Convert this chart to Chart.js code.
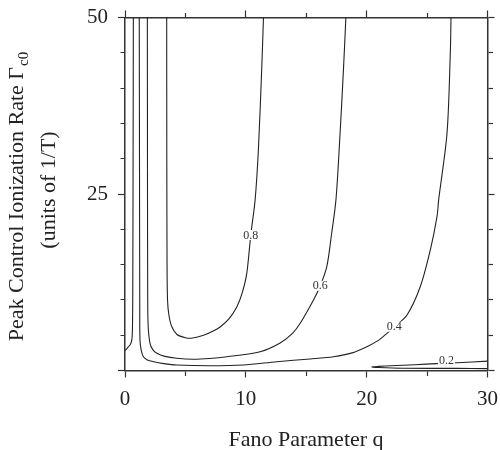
<!DOCTYPE html>
<html>
<head>
<meta charset="utf-8">
<script src="https://cdn.jsdelivr.net/npm/chart.js@4.4.0/dist/chart.umd.min.js"></script>
<style>
  html, body { margin: 0; padding: 0; background: #fff; }
</style>
</head>
<body>
<canvas id="chart" width="500" height="450"></canvas>
<script>
// contour lines: q (Fano parameter) and Gamma_c0 values
const q08 = [3.45, 3.46, 3.48, 3.52, 3.62, 3.85, 4.3, 5.0, 5.6, 6.5, 7.3, 7.9, 8.6, 9.25, 9.7, 10.08, 10.41, 10.77, 11.04, 11.32, 11.46];
const g08 = [50, 30, 15, 10, 8, 6.3, 5.1, 4.65, 4.6, 5.0, 5.6, 6.2, 7.3, 9.0, 11.0, 13.8, 19.2, 24.2, 31.3, 43.0, 50];

const q06 = [1.85, 1.86, 1.88, 1.92, 2.07, 2.3, 2.63, 3.3, 4.28, 5.66, 7.0, 8.43, 11.18, 12.84, 13.88, 14.5, 15.6, 16.16, 16.7, 17.1, 17.46, 17.8, 18.09, 18.28];
const g06 = [50, 30, 10, 6.2, 3.85, 2.95, 2.44, 2.0, 1.73, 1.59, 1.7, 1.95, 2.66, 3.9, 5.3, 6.7, 10.0, 12.0, 14.7, 19.4, 24.2, 33.6, 43.0, 50];

const q04 = [1.18, 1.2, 1.22, 1.24, 1.35, 1.52, 1.85, 2.35, 3.2, 4.28, 7.04, 9.79, 12.57, 15.33, 17.26, 18.8, 20.02, 21.0, 21.68, 22.3, 23.34, 24.44, 25.27, 25.82, 25.96, 26.65, 26.93, 26.98];
const g04 = [50, 30, 10, 4.3, 2.8, 1.95, 1.5, 1.25, 0.98, 0.78, 0.68, 0.78, 1.25, 1.63, 1.95, 2.5, 3.37, 4.3, 5.27, 6.2, 7.86, 11.9, 17.1, 21.8, 24.2, 33.6, 45.4, 50];

const q02a = [0.69, 0.67, 0.64, 0.61, 0.56, 0.45, 0.3, 0.1, 0];
const g02a = [50, 30, 10, 5.5, 4.3, 3.7, 3.4, 3.0, 2.85];

const q02b = [30, 27.5, 23, 21, 20.4, 21, 22, 24, 25.8, 27.5, 30];
const g02b = [0.27, 0.3, 0.32, 0.42, 0.5, 0.58, 0.67, 0.82, 0.98, 1.1, 1.33];

// contour labels
const labelText = ['0.8', '0.6', '0.4', '0.2'];
const labelQ = [10.41, 16.16, 22.29, 26.6];
const labelG = [19.2, 12.0, 6.2, 1.39];

// tick labels
const xTickLabels = [0, 10, 20, 30];
const yTickLabels = [25, 50];

const FONT = "'Liberation Serif', 'Times New Roman', serif";
const INK = '#222';

function pairs(xs, ys) {
    return xs.map((x, i) => ({ x: x, y: ys[i] }));
}

function contour(xs, ys) {
    return {
        data: pairs(xs, ys),
        showLine: true,
        borderColor: INK,
        borderWidth: 1.1,
        pointRadius: 0,
        tension: 0.3,
        fill: false,
    };
}

// minor ticks are drawn shorter with a dash on the tick mark
function tickDash(major, outward) {
    return ctx => {
        if (!ctx.tick || ctx.tick.value % major === 0) return [];
        return outward ? [4.5, 50] : [0, 2.5, 4.5, 50];
    };
}

function axis(position, major, step, outward, size, extra) {
    const horiz = position === 'bottom' || position === 'top';
    return Object.assign({
        type: 'linear',
        position: position,
        min: 0,
        max: horiz ? 30 : 50,
        border: { display: true, color: '#333', width: 1.5 },
        grid: {
            drawOnChartArea: false,
            drawTicks: true,
            tickLength: 7,
            tickColor: '#333',
            tickWidth: 1.2,
            tickBorderDash: tickDash(major, outward),
        },
        ticks: { display: false, stepSize: step, autoSkip: false, maxRotation: 0 },
        afterFit: s => {
            if (horiz) s.height = size; else s.width = size;
            s.paddingLeft = 0;
            s.paddingRight = 0;
            s.paddingTop = 0;
            s.paddingBottom = 0;
        },
    }, extra);
}

const titlePlugin = {
    id: 'titles',
    afterDraw(chart) {
        const ctx = chart.ctx;
        ctx.save();
        ctx.fillStyle = INK;

        // x title
        ctx.font = '22px ' + FONT;
        ctx.textAlign = 'center';
        ctx.textBaseline = 'middle';
        ctx.fillText('Fano Parameter q', 306, 440);

        // y title, rotated, with subscript
        const main = 'Peak Control Ionization Rate \u0393';
        const sub = 'c0';
        ctx.font = '22px ' + FONT;
        const w1 = ctx.measureText(main).width;
        ctx.font = '15px ' + FONT;
        const w2 = ctx.measureText(sub).width;

        ctx.translate(0, 197);
        ctx.rotate(-Math.PI / 2);
        ctx.textAlign = 'left';
        ctx.textBaseline = 'alphabetic';
        const start = -(w1 + w2) / 2;
        ctx.font = '22px ' + FONT;
        ctx.fillText(main, start, 23);
        ctx.font = '15px ' + FONT;
        ctx.fillText(sub, start + w1 + 1, 28);

        ctx.font = '22px ' + FONT;
        ctx.textAlign = 'center';
        ctx.fillText('(units of 1/T)', 7, 55);
        ctx.restore();
    }
};

const contourLabelPlugin = {
    id: 'contourLabels',
    afterDatasetsDraw(chart) {
        const ctx = chart.ctx;
        const xs = chart.scales.x;
        const ys = chart.scales.y;
        ctx.save();
        ctx.font = '12px ' + FONT;
        ctx.textAlign = 'center';
        ctx.textBaseline = 'middle';
        labelText.forEach((t, i) => {
            const px = xs.getPixelForValue(labelQ[i]);
            const py = ys.getPixelForValue(labelG[i]);
            const w = ctx.measureText(t).width + 2;
            ctx.fillStyle = '#fff';
            ctx.fillRect(px - w / 2, py - 5, w, 10);
            ctx.fillStyle = '#333';
            ctx.fillText(t, px, py + 0.5);
        });
        ctx.restore();
    }
};

const config = {
    type: 'scatter',
    data: {
        datasets: [
            contour(q08, g08),
            contour(q06, g06),
            contour(q04, g04),
            contour(q02a, g02a),
            contour(q02b, g02b),
        ]
    },
    options: {
        responsive: false,
        animation: false,
        layout: { padding: 0 },
        plugins: { legend: { display: false }, tooltip: { enabled: false } },
        scales: {
            x: axis('bottom', 10, 5, true, 79.5, {
                ticks: {
                    display: true, stepSize: 5, autoSkip: false, maxRotation: 0, padding: 9,
                    color: INK, font: { family: FONT, size: 21 },
                    callback: v => xTickLabels.includes(v) ? String(v) : '',
                }
            }),
            xTop: axis('top', 10, 5, false, 17.5),
            y: axis('left', 25, 5, false, 125, {
                ticks: {
                    display: true, stepSize: 5, autoSkip: false, padding: 10,
                    color: INK, font: { family: FONT, size: 21 },
                    callback: v => yTickLabels.includes(v) ? String(v) : '',
                }
            }),
            yRight: axis('right', 25, 5, true, 12.5),
        }
    },
    plugins: [contourLabelPlugin, titlePlugin],
};

new Chart(document.getElementById('chart'), config);
</script>
</body>
</html>
